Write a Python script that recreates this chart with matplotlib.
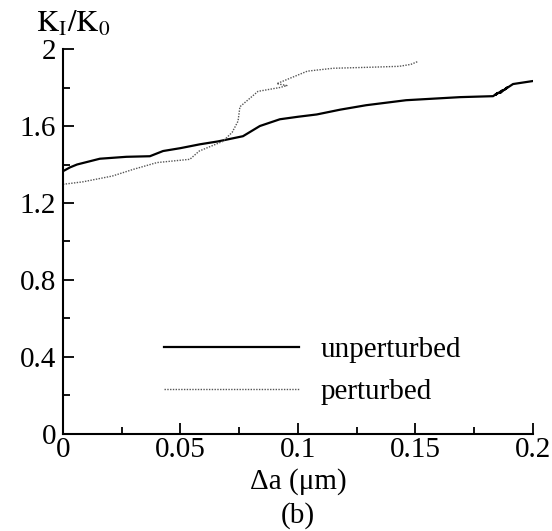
import matplotlib
matplotlib.use('Agg')
import matplotlib.pyplot as plt
from matplotlib.ticker import MultipleLocator, FixedLocator, FixedFormatter

plt.rcParams['font.family'] = ['Liberation Serif', 'DejaVu Serif']
plt.rcParams['mathtext.fontset'] = 'stix'

# unperturbed K_I/K_0 vs crack extension
da_unpert = [0.0, 0.003, 0.006, 0.0157, 0.027, 0.037, 0.0426, 0.050, 0.0583, 0.066,
             0.0766, 0.0838, 0.0923, 0.100, 0.108, 0.118, 0.129, 0.146, 0.169, 0.183,
             0.185, 0.184, 0.187, 0.186, 0.189, 0.188, 0.1915, 0.1996]
k_unpert = [1.365, 1.385, 1.40, 1.43, 1.44, 1.443, 1.47, 1.485, 1.505, 1.52,
            1.547, 1.60, 1.635, 1.648, 1.66, 1.685, 1.708, 1.734, 1.75, 1.755,
            1.772, 1.762, 1.785, 1.772, 1.80, 1.79, 1.818, 1.833]

# perturbed
da_pert = [0.0, 0.0085, 0.021, 0.030, 0.040, 0.054, 0.058, 0.068, 0.072, 0.0745,
           0.0753, 0.083, 0.0923, 0.0953, 0.091, 0.104, 0.115, 0.130, 0.143, 0.148, 0.151]
k_pert = [1.297, 1.31, 1.34, 1.375, 1.41, 1.427, 1.47, 1.52, 1.567, 1.625,
          1.70, 1.78, 1.80, 1.81, 1.82, 1.885, 1.90, 1.905, 1.91, 1.92, 1.935]

fs = 21

fig = plt.figure(figsize=(5.52, 5.31), dpi=100)
ax = fig.add_axes([0.114, 0.1827, 0.8516, 0.725])

ax.plot(da_unpert, k_unpert, color='black', lw=1.6, label='unperturbed')
ax.plot(da_pert, k_pert, color='#555555', lw=1.0, ls=(0, (1, 1)), label='perturbed')

ax.set_xlim(0, 0.2)
ax.set_ylim(0, 2)
for s in ['top', 'right']:
    ax.spines[s].set_visible(False)
for s in ['left', 'bottom']:
    ax.spines[s].set_linewidth(1.5)

xt = [0, 0.05, 0.1, 0.15, 0.2]
yt = [0, 0.4, 0.8, 1.2, 1.6, 2]
ax.xaxis.set_major_locator(FixedLocator(xt))
ax.xaxis.set_major_formatter(FixedFormatter(['0', '0.05', '0.1', '0.15', '0.2']))
ax.yaxis.set_major_locator(FixedLocator(yt))
ax.yaxis.set_major_formatter(FixedFormatter(['0', '0.4', '0.8', '1.2', '1.6', '2']))
ax.xaxis.set_minor_locator(MultipleLocator(0.025))
ax.yaxis.set_minor_locator(MultipleLocator(0.2))
ax.tick_params(which='both', direction='in', width=1.3, labelsize=fs)
ax.tick_params(axis='x', pad=2)
ax.tick_params(axis='y', pad=5)
ax.tick_params(which='major', length=8)
ax.tick_params(which='minor', length=5)

ax.legend(loc='center left', bbox_to_anchor=(0.16, 0.164), frameon=False,
          fontsize=fs, handlelength=4.6, handletextpad=0.75, labelspacing=0.55)

fig.text(0.065, 0.955, r'$\mathrm{K_I/K_0}$', fontsize=22, ha='left', va='center')
fig.text(0.54, 0.094, 'Δa (μm)', fontsize=fs, ha='center', va='center')
fig.text(0.54, 0.030, '(b)', fontsize=fs, ha='center', va='center')

fig.savefig('out.png', dpi=100)
